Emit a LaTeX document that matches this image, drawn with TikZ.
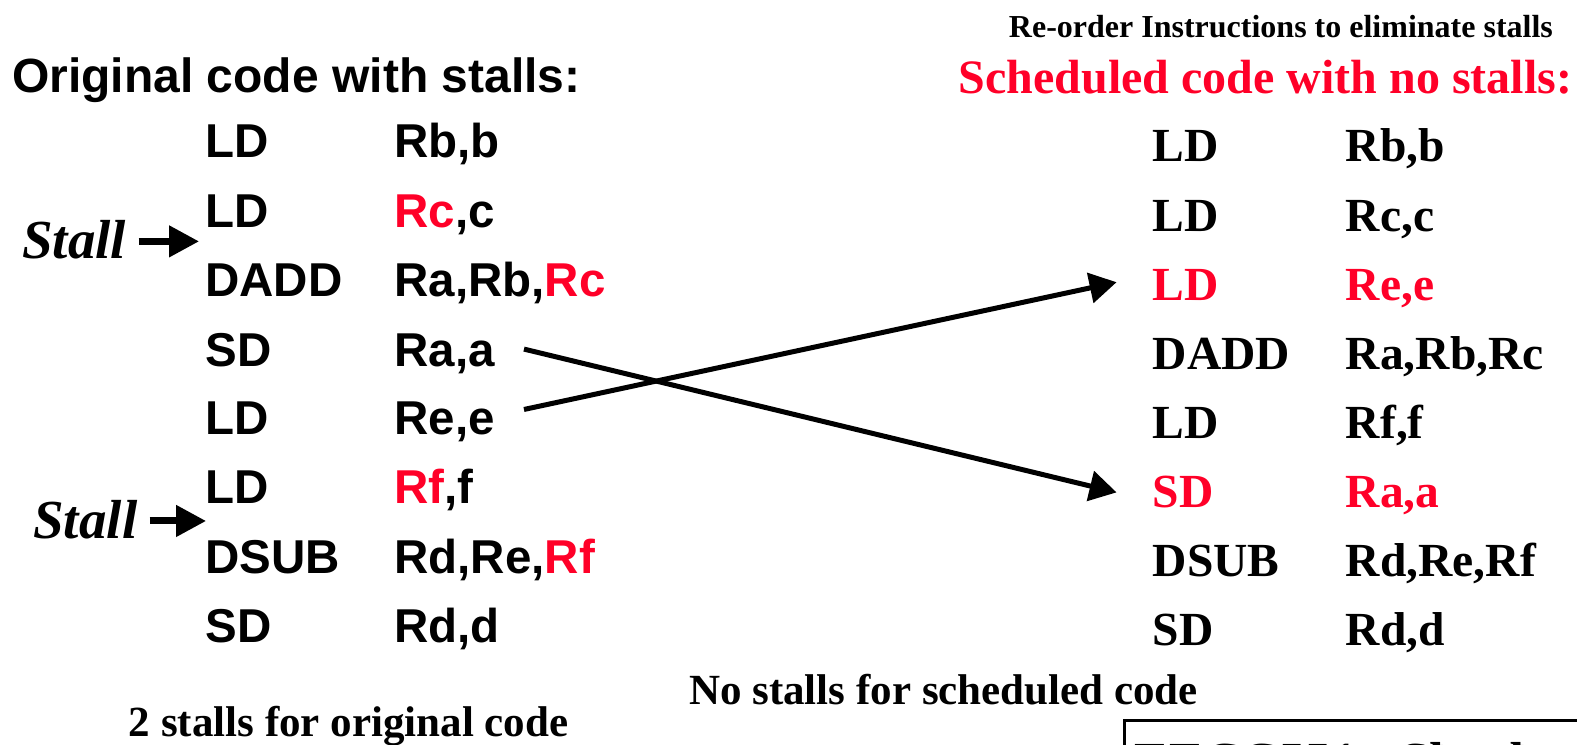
\documentclass[tikz,border=0pt]{standalone}
\usepackage{fontspec}
\usetikzlibrary{arrows.meta}
\newfontfamily\arialf{Liberation Sans}
\newfontfamily\timesf{Liberation Serif}
\definecolor{hot}{RGB}{255,0,40}
\definecolor{shade}{RGB}{150,150,150}
\tikzset{
  codeA/.style={anchor=base west, inner sep=0pt, text height=34pt, text depth=0pt,
    font=\arialf\bfseries\fontsize{47.5}{47.5}\selectfont},
  codeT/.style={anchor=base west, inner sep=0pt, text height=31pt, text depth=0pt,
    font=\timesf\bfseries\fontsize{47.5}{47.5}\selectfont},
  stalltxt/.style={anchor=base west, inner sep=0pt,
    font=\timesf\bfseries\itshape\fontsize{55}{55}\selectfont},
  note/.style={anchor=base west, inner sep=0pt,
    font=\timesf\bfseries\fontsize{43}{43}\selectfont},
  stallarrow/.style={line width=7pt, -{Triangle[length=30pt,width=30pt]}},
  movearrow/.style={line width=5pt, -{Triangle[length=27pt,width=30pt]}},
}
\begin{document}
\begin{tikzpicture}[x=1.0057pt,y=-1.0057pt]
\useasboundingbox (0,0) rectangle (1568,740);
\clip (0,0) rectangle (1568,740);

% headings
\node[anchor=base west, inner sep=0pt, font=\arialf\bfseries\fontsize{48}{48}\selectfont]
  (lhead) at (12,92) {Original code with stalls:};
\node[anchor=base west, inner sep=0pt, font=\timesf\bfseries\fontsize{32}{32}\selectfont]
  (rsub) at (1003,37) {Re-order Instructions to eliminate stalls};
\node[anchor=base west, inner sep=0pt, text=hot, font=\timesf\bfseries\fontsize{48}{48}\selectfont]
  (rhead) at (953,93) {Scheduled code with no stalls:};

% original code
\node[codeA] (l1o) at (204,157) {LD};   \node[codeA] (l1a) at (392,157) {Rb,b};
\node[codeA] (l2o) at (204,226) {LD};   \node[codeA] (l2a) at (392,226) {\textcolor{hot}{Rc},c};
\node[codeA] (l3o) at (204,295) {DADD}; \node[codeA] (l3a) at (392,295) {Ra,Rb,\textcolor{hot}{Rc}};
\node[codeA] (l4o) at (204,364) {SD};   \node[codeA] (l4a) at (392,364) {Ra,a};
\node[codeA] (l5o) at (204,432) {LD};   \node[codeA] (l5a) at (392,432) {Re,e};
\node[codeA] (l6o) at (204,501) {LD};   \node[codeA] (l6a) at (392,501) {\textcolor{hot}{Rf},f};
\node[codeA] (l7o) at (204,570) {DSUB}; \node[codeA] (l7a) at (392,570) {Rd,Re,\textcolor{hot}{Rf}};
\node[codeA] (l8o) at (204,639) {SD};   \node[codeA] (l8a) at (392,639) {Rd,d};

% scheduled code
\node[codeT] (r1o) at (1146,161) {LD};   \node[codeT] (r1a) at (1338,161) {Rb,b};
\node[codeT] (r2o) at (1146,230) {LD};   \node[codeT] (r2a) at (1338,230) {Rc,c};
\node[codeT, text=hot] (r3o) at (1146,299) {LD}; \node[codeT, text=hot] (r3a) at (1338,299) {Re,e};
\node[codeT] (r4o) at (1146,367) {DADD}; \node[codeT] (r4a) at (1338,367) {Ra,Rb,Rc};
\node[codeT] (r5o) at (1146,436) {LD};   \node[codeT] (r5a) at (1338,436) {Rf,f};
\node[codeT, text=hot] (r6o) at (1146,505) {SD}; \node[codeT, text=hot] (r6a) at (1338,505) {Ra,a};
\node[codeT] (r7o) at (1146,573) {DSUB}; \node[codeT] (r7a) at (1338,573) {Rd,Re,Rf};
\node[codeT] (r8o) at (1146,642) {SD};   \node[codeT] (r8a) at (1338,642) {Rd,d};

% stall markers
\node[stalltxt] (st1) at (22,257) {Stall};
\node[stalltxt] (st2) at (33,535) {Stall};
\coordinate (st1tip) at (198,240);
\coordinate (st2tip) at (205,518);
\draw[stallarrow] (st1.east |- st1tip) ++(12,0) -- (st1tip);
\draw[stallarrow] (st2.east |- st2tip) ++(12,0) -- (st2tip);

% moved instructions
\draw[movearrow] ([xshift=29pt]l4a.east) -- ([xshift=-36pt]r6o.west);
\draw[movearrow] ([xshift=29pt,yshift=8pt]l5a.east) -- ([xshift=-36pt,yshift=3pt]r3o.west);

% notes
\node[note] (nsched) at (685,700) {No stalls for scheduled code};
\node[note] (norig) at (128,732) {2 stalls for original code};

% footer box
\draw[line width=3pt] (1118,716) rectangle (1700,820);
\node[anchor=base west, inner sep=0pt, text=shade, font=\timesf\bfseries\fontsize{52}{52}\selectfont]
  (footsh) at (1131,777) {EECC551 - Shaaban};
\node[anchor=base west, inner sep=0pt, font=\timesf\bfseries\fontsize{52}{52}\selectfont]
  (foot) at (1128,774) {EECC551 - Shaaban};
\end{tikzpicture}
\end{document}
